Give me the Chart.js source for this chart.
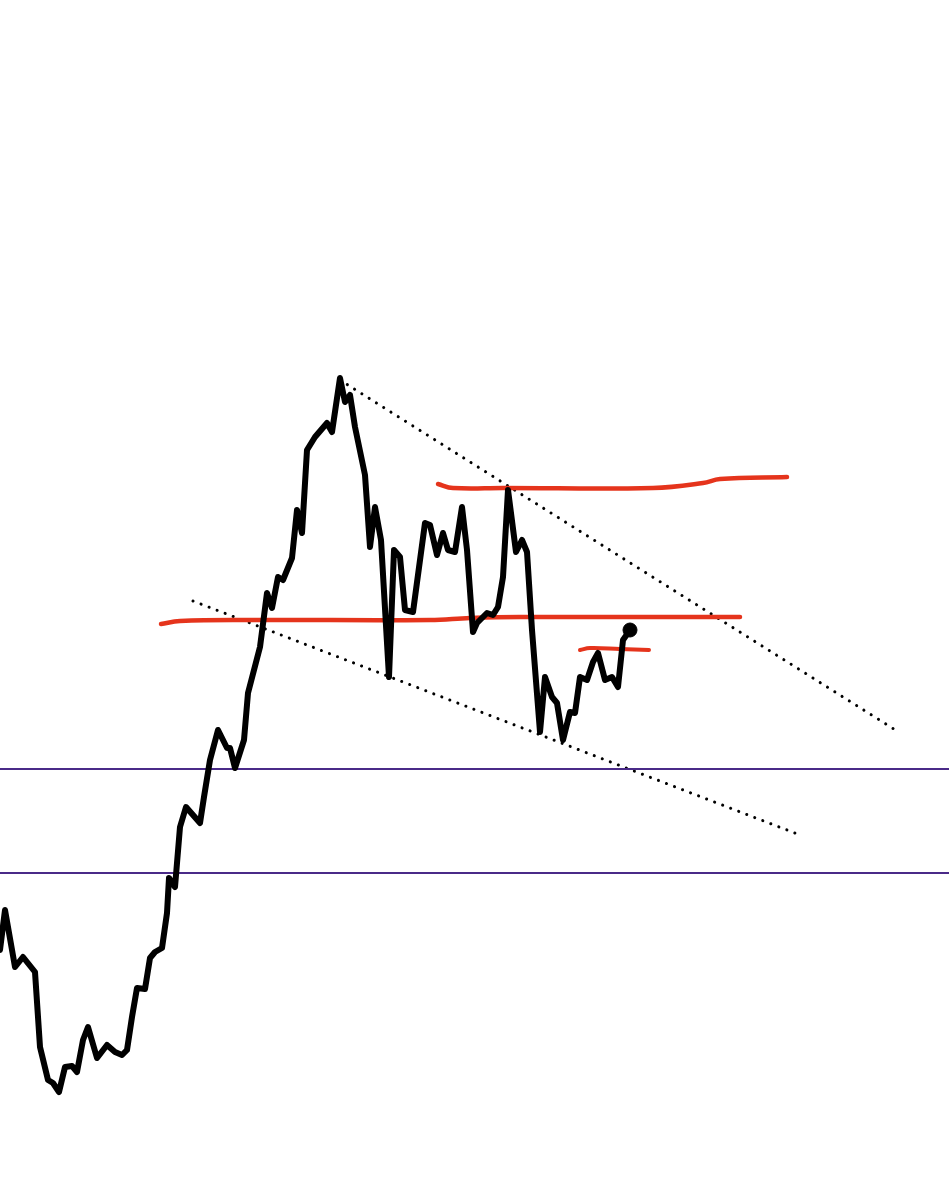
<!DOCTYPE html>
<html>
<head>
<meta charset="utf-8">
<script src="https://cdn.jsdelivr.net/npm/chart.js@4"></script>
<style>
  body { margin: 0; background: #fff; }
  canvas { display: block; }
</style>
</head>
<body>
<canvas id="myChart" width="949" height="1200"></canvas>
<script>
// price path (x = time position, y = price)
const priceX = [0,5,15,23,35,40,48,53,59,65,72,77,83,88,97,107,115,122,127,132,137,145,150,155,162,167,169,175,180,186,200,204,210,218,227,230,235,244,248,260,267,272,278,283,292,297,302,307,315,327,332,340,345,350,355,365,370,375,381,389,394,400,405,413,425,430,437,443,448,455,462,467,473,477,487,493,498,503,508,516,522,527,532,540,545,552,557,563,570,575,580,587,593,598,605,612,618,623,630];
const priceY = [250,290,233,243,228,153,120,117,108,133,134,128,160,173,142,155,148,145,150,183,212,211,242,248,252,287,322,313,373,393,377,403,440,470,452,452,432,460,507,553,607,592,623,620,642,690,667,750,763,777,768,822,798,805,773,725,653,693,660,523,650,643,590,588,677,675,645,667,650,648,693,650,568,577,587,585,593,623,710,648,660,648,570,468,523,503,497,460,488,487,523,520,538,547,520,523,513,560,570];

// red hand-drawn levels
const topLevelX = [438,453,503,653,703,720,787];
const topLevelY = [716,712,712,712,717,721,723];
const midLevelX = [161,180,250,430,470,520,740];
const midLevelY = [576,579,580,580,582,583,583];
const smallLevelX = [580,590,620,649];
const smallLevelY = [550,552,551,550];

// purple horizontal levels
const purpleLevels = [431, 327];

// dotted channel lines [x0, y0, x1, y1]
const upperTrend = [340, 820, 897, 469];
const lowerTrend = [193, 599, 800, 365];

const pts = (xs, ys) => xs.map((x, i) => ({ x: x, y: ys[i] }));
const red = "#e5341c";
const purple = "#4a2a88";

const datasets = [
    {
        data: pts(priceX, priceY),
        borderColor: "#000",
        borderWidth: 6,
        borderJoinStyle: "round",
        borderCapStyle: "round",
        pointRadius: 0,
        tension: 0
    },
    {
        data: [{ x: priceX[priceX.length - 1], y: priceY[priceY.length - 1] }],
        borderColor: "#000",
        backgroundColor: "#000",
        pointRadius: 7,
        showLine: false
    },
    {
        data: pts(topLevelX, topLevelY),
        borderColor: red, borderWidth: 4.5, borderCapStyle: "round",
        pointRadius: 0, tension: 0.4
    },
    {
        data: pts(midLevelX, midLevelY),
        borderColor: red, borderWidth: 4.5, borderCapStyle: "round",
        pointRadius: 0, tension: 0.4
    },
    {
        data: pts(smallLevelX, smallLevelY),
        borderColor: red, borderWidth: 4, borderCapStyle: "round",
        pointRadius: 0, tension: 0.4
    }
];

purpleLevels.forEach((lvl) => {
    datasets.push({
        data: [{ x: 0, y: lvl }, { x: 949, y: lvl }],
        borderColor: purple, borderWidth: 2.2, pointRadius: 0
    });
});

[upperTrend, lowerTrend].forEach((t) => {
    datasets.push({
        data: [{ x: t[0], y: t[1] }, { x: t[2], y: t[3] }],
        borderColor: "#000",
        borderWidth: 3,
        borderDash: [0.1, 8.5],
        borderCapStyle: "round",
        pointRadius: 0
    });
});

const config = {
    type: "line",
    data: { datasets: datasets },
    options: {
        responsive: false,
        animation: false,
        layout: { padding: 0, autoPadding: false },
        scales: {
            x: { type: "linear", min: 0, max: 949, display: false },
            y: { type: "linear", min: 0, max: 1200, display: false }
        },
        plugins: {
            legend: { display: false },
            tooltip: { enabled: false }
        }
    }
};
const myChart = new Chart(document.getElementById("myChart"), config);
</script>
</body>
</html>
